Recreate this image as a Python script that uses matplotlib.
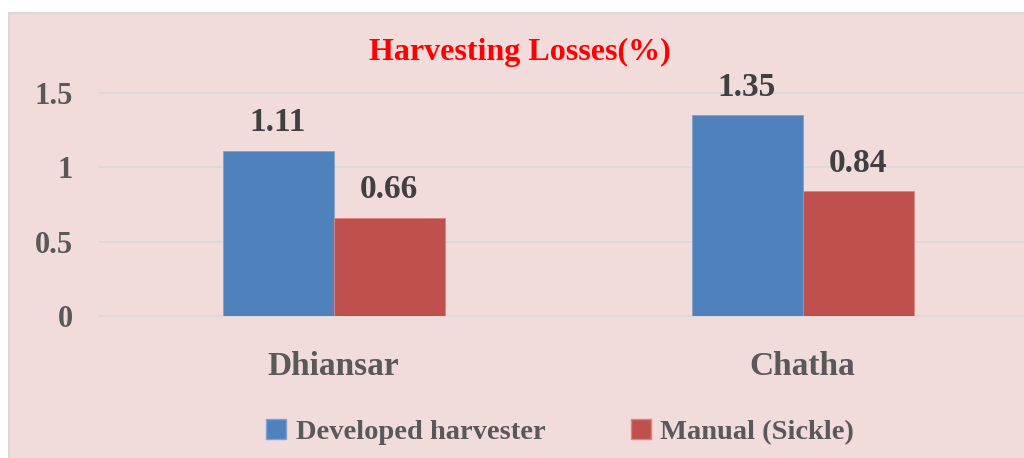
"""Harvesting losses: developed harvester vs. manual sickle."""
import matplotlib

matplotlib.use("Agg")
import matplotlib.pyplot as plt
import numpy as np
from matplotlib.patches import Patch, Rectangle

locations = ["Dhiansar", "Chatha"]
series_names = ["Developed harvester", "Manual (Sickle)"]
developed = [1.11, 1.35]
manual = [0.66, 0.84]
y_ticks = [0, 0.5, 1, 1.5]
y_tick_labels = ["0", "0.5", "1", "1.5"]

BLUE = "#4F81BD"
RED = "#C0504D"
PINK = "#F2DCDB"
GRID = "#D9D9D9"

W, H = 1024, 458
fig = plt.figure(figsize=(W / 100, H / 100), dpi=100, facecolor="white")
plt.rcParams["font.family"] = ["Liberation Serif", "DejaVu Serif"]
plt.rcParams["font.weight"] = "bold"

# pink chart area with a faint border, white strip on top
fig.patches.append(Rectangle((9 / W, -0.05), 1.2, (H - 13) / H + 0.05, transform=fig.transFigure,
                             facecolor=PINK, edgecolor=GRID, linewidth=1.5, zorder=-10))

# axes: x -0.5 at px 99, 469 px per category; y 0 at px 316, 148.7 px per unit
ax_left, ax_bottom = 99 / W, (H - 316) / H
ax_w, ax_h = (W - 99) / W, 1.6 * 148.7 / H
ax = fig.add_axes([ax_left, ax_bottom, ax_w, ax_h])
ax.set_facecolor("none")
ax.set_xlim(-0.5, -0.5 + (W - 99) / 469)
ax.set_ylim(0, 1.6)

x = np.arange(len(locations))
bw = 111 / 469
b1 = ax.bar(x - bw / 2, developed, bw, color=BLUE, edgecolor="#7FA3D0", linewidth=0.6, zorder=3)
b2 = ax.bar(x + bw / 2, manual, bw, color=RED, edgecolor="#D88583", linewidth=0.6, zorder=3)

for bars, vals in [(b1, developed), (b2, manual)]:
    for rect, v in zip(bars, vals):
        ax.annotate(f"{v:.2f}", (rect.get_x() + rect.get_width() / 2, v),
                    xytext=(0, 9), textcoords="offset points", ha="center", va="bottom",
                    fontsize=24, fontweight="bold", color="#404040")

ax.set_yticks(y_ticks)
ax.set_yticklabels(y_tick_labels)
ax.set_xticks(x)
ax.set_xticklabels(locations)
ax.tick_params(axis="y", length=0, pad=19, labelsize=22, labelcolor="#595959")
ax.tick_params(axis="x", length=0, pad=25, labelsize=24, labelcolor="#595959")
ax.grid(axis="y", color=GRID, linewidth=1.2, zorder=0)
for s in ["top", "right", "left"]:
    ax.spines[s].set_visible(False)
ax.spines["bottom"].set_color(GRID)
ax.spines["bottom"].set_linewidth(1.2)

fig.text(520 / W, 1 - 52 / H, "Harvesting Losses(%)", ha="center", va="center",
         fontsize=23, fontweight="bold", color="red")

handles = [Patch(facecolor=BLUE, edgecolor="#7FA3D0"), Patch(facecolor=RED, edgecolor="#D88583")]
fig.legend(handles, series_names, loc="center", bbox_to_anchor=(560 / W, 1 - 432 / H),
           ncol=2, frameon=False, handlelength=0.7, handleheight=0.7, handletextpad=0.35,
           columnspacing=3.0, prop={"size": 20.5, "weight": "bold"}, labelcolor="#595959")

fig.savefig("out.png", dpi=100, facecolor="white")
